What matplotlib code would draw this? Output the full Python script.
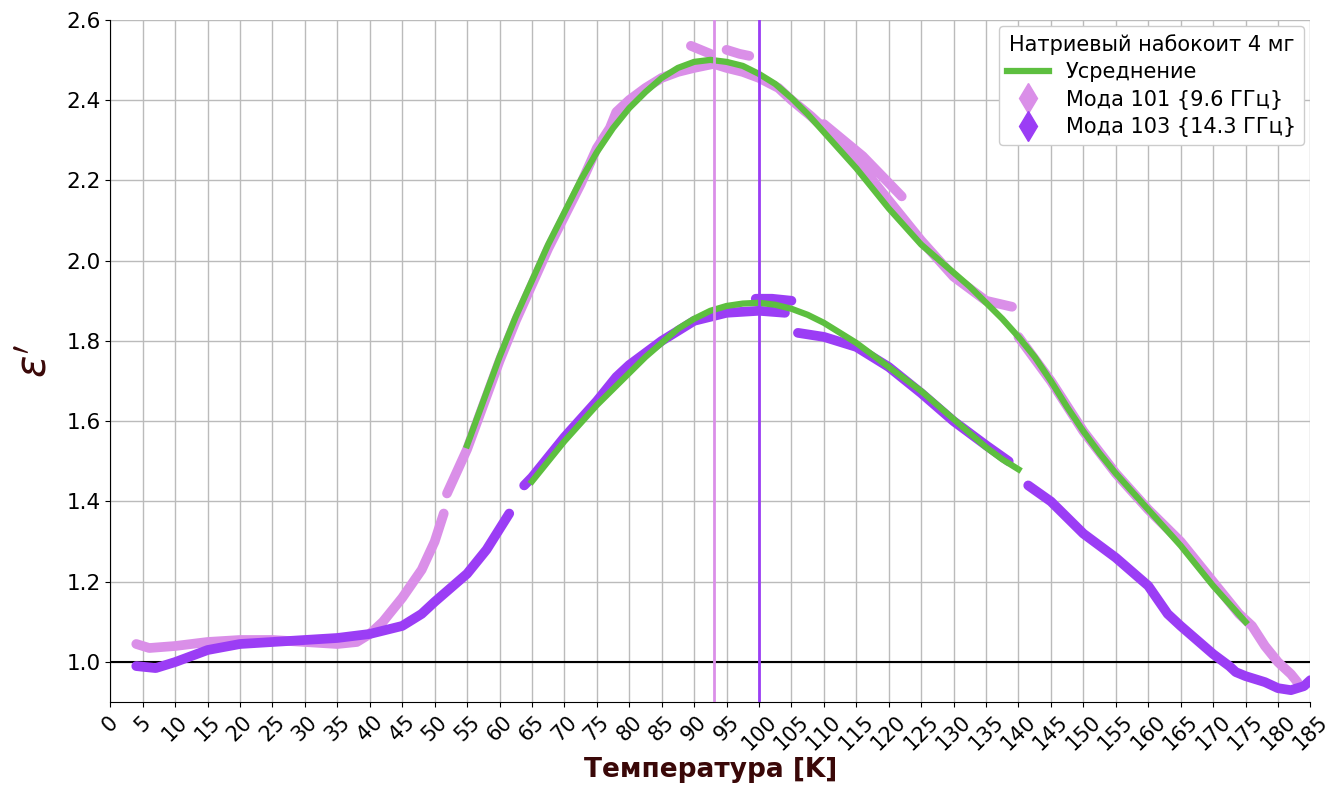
import numpy as np
import matplotlib
matplotlib.use("Agg")
import matplotlib.pyplot as plt
from matplotlib.lines import Line2D

LIGHT = "#DA8FE8"; DARK = "#9B3DF5"; GREEN = "#5DBF3F"; MAROON = "#3A0808"
nan = np.nan

# Mode 101 (9.6 GHz) measured, NaN = gap
t101 = [4, 6, 10, 15, 20, 25, 30, 35, 38, 40, 42, 45, 48, 50, 51.4, nan,
        51.9, 55, 57.5, 60, 62.5, 65, 67.5, 70, 72.5, 75, 77, 78, 80, 82.5, 85, 87.5, 90,
        93, 95, 97.5, 100, 103, 105, 108, 110, 115, 120, 125, 130, 135, 139, nan,
        89.5, 91, 92.5, nan,
        95, 97, 98.5, nan,
        110, 113, 116, 119, 122, nan,
        140, 145, 150, 155, 160, 165, 170, 174, 176, 178, 180, 182, 183]
e101 = [1.045, 1.035, 1.04, 1.05, 1.055, 1.055, 1.05, 1.045, 1.05, 1.07, 1.10, 1.16,
        1.23, 1.30, 1.37, nan,
        1.42, 1.53, 1.64, 1.75, 1.85, 1.94, 2.03, 2.11, 2.19, 2.28, 2.33, 2.37, 2.40,
        2.43, 2.455, 2.47, 2.48, 2.49, 2.48, 2.47, 2.455, 2.43, 2.40, 2.36, 2.33, 2.25,
        2.15, 2.05, 1.96, 1.90, 1.885, nan,
        2.535, 2.525, 2.515, nan,
        2.525, 2.515, 2.51, nan,
        2.34, 2.30, 2.26, 2.21, 2.16, nan,
        1.81, 1.70, 1.575, 1.47, 1.38, 1.30, 1.20, 1.12, 1.09, 1.04, 1.00, 0.97, 0.95]

# Mode 103 (14.3 GHz) measured
t103 = [4, 7, 10, 15, 20, 25, 30, 35, 40, 45, 48, 50, 55, 58, 61.5, nan,
        63.8, 65, 70, 75, 78, 80, 85, 90, 95, 100, 104, nan,
        99.5, 102, 105, nan,
        106, 110, 115, 120, 125, 130, 135, 138.5, nan,
        141.5, 145, 150, 155, 160, 163, 165, 170, 172.5, 173.5, 175, 178, 180, 182, 184, 185]
e103 = [0.99, 0.985, 1.0, 1.03, 1.045, 1.05, 1.055, 1.06, 1.07, 1.09, 1.12, 1.15,
        1.22, 1.28, 1.37, nan,
        1.44, 1.46, 1.56, 1.65, 1.71, 1.74, 1.80, 1.85, 1.87, 1.875, 1.87, nan,
        1.905, 1.905, 1.90, nan,
        1.82, 1.81, 1.785, 1.735, 1.67, 1.60, 1.54, 1.50, nan,
        1.44, 1.40, 1.32, 1.26, 1.19, 1.12, 1.09, 1.02, 0.99, 0.975, 0.965, 0.95,
        0.935, 0.93, 0.94, 0.955]

# averaged curves
ta = [55, 57.5, 60, 62.5, 65, 67.5, 70, 72.5, 75, 77.5, 80, 82.5, 85, 87.5, 90, 92.5,
      95, 97.5, 100, 102.5, 105, 107.5, 110, 112.5, 115, 117.5, 120, 122.5, 125, 127.5,
      130, 132.5, 135, 137.5, 140, 142.5, 145, 147.5, 150, 152.5, 155, 157.5, 160,
      162.5, 165, 167.5, 170, 172.5, 175]
ea = [1.54, 1.65, 1.76, 1.86, 1.95, 2.04, 2.12, 2.20, 2.27, 2.33, 2.38, 2.42, 2.455,
      2.48, 2.495, 2.50, 2.495, 2.485, 2.465, 2.44, 2.405, 2.365, 2.32, 2.275, 2.23,
      2.18, 2.13, 2.085, 2.04, 2.005, 1.97, 1.935, 1.895, 1.855, 1.81, 1.76, 1.70,
      1.635, 1.575, 1.52, 1.47, 1.425, 1.38, 1.335, 1.29, 1.24, 1.19, 1.145, 1.10]
tb = [65, 67.5, 70, 72.5, 75, 77.5, 80, 82.5, 85, 87.5, 90, 92.5, 95, 97.5, 100,
      102.5, 105, 107.5, 110, 112.5, 115, 117.5, 120, 122.5, 125, 127.5, 130, 132.5,
      135, 137.5, 140]
eb = [1.45, 1.50, 1.55, 1.595, 1.64, 1.68, 1.72, 1.76, 1.795, 1.83, 1.855, 1.875,
      1.887, 1.893, 1.895, 1.89, 1.88, 1.865, 1.845, 1.82, 1.795, 1.765, 1.735, 1.705,
      1.675, 1.64, 1.605, 1.57, 1.535, 1.505, 1.48]

v101, v103 = 93, 100

fig = plt.figure(figsize=(13.29, 7.89), dpi=100)
ax = fig.add_axes([0.083, 0.110, 0.903, 0.865])

ax.plot(t101, e101, color=LIGHT, lw=7, solid_capstyle="round", zorder=3)
ax.plot(t103, e103, color=DARK, lw=7, solid_capstyle="round", zorder=3)
ax.plot(ta, ea, color=GREEN, lw=4.5, zorder=4)
ax.plot(tb, eb, color=GREEN, lw=4.5, zorder=4)
ax.axvline(v101, color=LIGHT, lw=2, zorder=5)
ax.axvline(v103, color=DARK, lw=2, zorder=5)
ax.axhline(1.0, color="black", lw=1.5, zorder=2)

ax.set_xlim(0, 185)
ax.set_ylim(0.9, 2.6)
ax.set_xticks(np.arange(0, 186, 5))
ax.set_yticks(np.arange(1.0, 2.61, 0.2))
ax.tick_params(axis="x", labelrotation=45, labelsize=15)
ax.tick_params(axis="y", labelsize=15.5)
ax.grid(True, color="#bbbbbb", lw=1)
ax.set_axisbelow(True)
for s in ("top", "right"):
    ax.spines[s].set_visible(False)

ax.set_xlabel("Температура [K]", fontsize=19, fontweight="bold", color=MAROON, labelpad=2)
ax.set_ylabel(r"$\varepsilon'$", fontsize=30, color=MAROON, labelpad=8)

handles = [
    Line2D([], [], color=GREEN, lw=4.5, label="Усреднение"),
    Line2D([], [], marker="d", color="none", markerfacecolor=LIGHT, markeredgecolor=LIGHT,
           markersize=15, label="Мода 101 {9.6 ГГц}"),
    Line2D([], [], marker="d", color="none", markerfacecolor=DARK, markeredgecolor=DARK,
           markersize=15, label="Мода 103 {14.3 ГГц}"),
]
leg = ax.legend(handles=handles, title="Натриевый набокоит 4 мг", loc="upper right",
                fontsize=15, title_fontsize=15, framealpha=1, borderaxespad=0.3,
                labelspacing=0.35)
leg.set_zorder(20)

plt.savefig("out.png", dpi=100)
